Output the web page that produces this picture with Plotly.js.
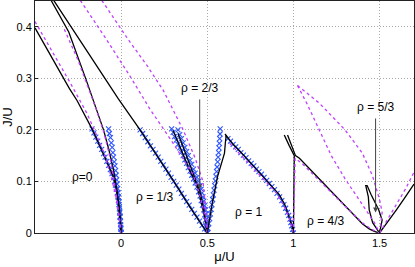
<!DOCTYPE html>
<html><head><meta charset="utf-8">
<script src="https://cdn.plot.ly/plotly-3.0.1.min.js"></script>
<style>html,body{margin:0;padding:0;background:#fff}#c{width:415px;height:267px}</style>
</head><body><div id="c"></div>
<script>
// ---- black solid boundaries ----
const k1x=[-0.5,-0.4,-0.3,-0.256,-0.2,-0.169,-0.125,-0.083,-0.044,-0.023,-0.010,-0.003,0];
const k1y=[0.398,0.339,0.28,0.257,0.223,0.202,0.170,0.139,0.108,0.078,0.047,0.016,0];
const k2x=[-0.406,-0.304,-0.202,-0.102,-0.07,-0.044,-0.025,-0.012,-0.004,0];
const k2y=[0.451,0.39,0.296,0.2,0.16,0.121,0.083,0.05,0.02,0];
const k3x=[-0.391,-0.2,-0.016,0.11,0.2,0.3,0.4,0.5];
const k3y=[0.451,0.355,0.26,0.2,0.155,0.103,0.05,0];
const k4x=[0.302,0.35,0.4,0.456,0.48,0.5];
const k4y=[0.199,0.16,0.12,0.083,0.045,0];
const k5x=[0.33,0.38,0.43,0.465,0.49,0.5];
const k5y=[0.193,0.15,0.105,0.06,0.025,0];
const k6x=[0.5,0.53,0.56,0.585,0.6,0.605,0.61];
const k6y=[0,0.06,0.11,0.14,0.155,0.175,0.19];
const k7x=[0.603,0.65,0.7,0.8,0.86,0.919,0.95,0.975,0.99,1.0];
const k7y=[0.192,0.172,0.155,0.118,0.096,0.074,0.055,0.033,0.016,0];
const k8x=[1.0,1.003,1.005,1.005,0.975,0.947];
const k8y=[0,0.05,0.1,0.15,0.17,0.19];
const k9x=[0.966,0.99,1.012,1.035,1.1,1.2,1.3,1.4,1.44,1.47,1.5];
const k9y=[0.19,0.17,0.15,0.145,0.122,0.088,0.053,0.018,0.008,0.003,0];
const k10x=[1.5,1.46,1.44,1.435,1.42,1.428,1.45,1.47,1.495,1.515,1.5];
const k10y=[0,0.02,0.045,0.07,0.092,0.092,0.075,0.062,0.045,0.025,0];
const k11x=[1.5,1.55,1.6,1.65,1.7];
const k11y=[0,0.022,0.046,0.07,0.095];
// ---- magenta dashed boundaries ----
const m1x=[-0.5,-0.4,-0.3,-0.2,-0.15,-0.1,-0.06,-0.03,-0.01,0];
const m1y=[0.41,0.352,0.294,0.233,0.196,0.155,0.112,0.07,0.03,0];
const m2x=[-0.33,-0.25,-0.2,-0.15,-0.1,-0.06,-0.03,-0.01,0];
const m2y=[0.395,0.335,0.29,0.245,0.195,0.14,0.08,0.03,0];
const m3x=[-0.237,-0.1,0.05,0.168,0.3,0.418,0.46,0.485,0.5];
const m3y=[0.451,0.383,0.305,0.24,0.175,0.113,0.07,0.035,0];
const m4x=[-0.112,0.052,0.15,0.244,0.36,0.43,0.475,0.49,0.5];
const m4y=[0.451,0.37,0.325,0.277,0.2,0.145,0.1,0.05,0];
const m5x=[0.63,0.7,0.8,0.9,0.95,0.98,1.0];
const m5y=[0.174,0.15,0.114,0.078,0.05,0.025,0];
const m6x=[1.0,1.003,1.006,1.01,1.05,1.1,1.2,1.3,1.4,1.45,1.5];
const m6y=[0,0.05,0.1,0.145,0.135,0.118,0.085,0.052,0.02,0.008,0];
const m7x=[1.024,1.08,1.15,1.22,1.3,1.4,1.47,1.5];
const m7y=[0.286,0.25,0.2,0.15,0.105,0.055,0.02,0];
const m8x=[1.024,1.15,1.3,1.4,1.46,1.5,1.515,1.505,1.5];
const m8y=[0.286,0.252,0.2,0.155,0.11,0.065,0.04,0.015,0];
const m9x=[1.5,1.55,1.6,1.65,1.7];
const m9y=[0,0.028,0.055,0.085,0.118];
// ---- blue crosses ----
const b1x=[-0.169,-0.158,-0.147,-0.136,-0.125,-0.113,-0.102,-0.093,-0.083,-0.073,-0.063,-0.053,-0.044,-0.038,-0.033,-0.028,-0.023,-0.019,-0.016,-0.013,-0.010,-0.008,-0.006,-0.004,-0.003,-0.001,0];
const b1y=[0.202,0.194,0.186,0.178,0.170,0.162,0.154,0.147,0.139,0.131,0.123,0.115,0.108,0.100,0.093,0.085,0.078,0.070,0.063,0.055,0.047,0.039,0.031,0.023,0.016,0.008,0];
const b2x=[-0.073,-0.068,-0.062,-0.057,-0.052,-0.048,-0.044,-0.040,-0.036,-0.032,-0.029,-0.026,-0.023,-0.020,-0.017,-0.014,-0.012,-0.010,-0.008,-0.006,-0.004,-0.002,0];
const b2y=[0.202,0.193,0.185,0.175,0.166,0.156,0.147,0.138,0.130,0.121,0.112,0.103,0.095,0.086,0.078,0.069,0.060,0.051,0.042,0.032,0.022,0.011,0];
const b3x=[0.11,0.125,0.14,0.155,0.17,0.185,0.2,0.215,0.23,0.245,0.26,0.275,0.29,0.305,0.32,0.335,0.35,0.365,0.38,0.395,0.41,0.425,0.44,0.455,0.47,0.485,0.5];
const b3y=[0.2,0.193,0.185,0.177,0.169,0.162,0.155,0.147,0.139,0.132,0.124,0.116,0.108,0.1,0.093,0.085,0.077,0.069,0.061,0.054,0.046,0.038,0.031,0.023,0.015,0.008,0];
const b4x=[0.293,0.302,0.31,0.32,0.33,0.34,0.35,0.36,0.37,0.38,0.39,0.4,0.41,0.42,0.43,0.44,0.45,0.458,0.465,0.472,0.48,0.485,0.49,0.495,0.5];
const b4y=[0.202,0.195,0.187,0.18,0.172,0.165,0.157,0.15,0.142,0.135,0.127,0.12,0.112,0.105,0.097,0.089,0.08,0.072,0.063,0.054,0.045,0.035,0.025,0.013,0];
const b5x=[0.33,0.34,0.35,0.36,0.37,0.38,0.39,0.4,0.41,0.42,0.43,0.44,0.45,0.458,0.465,0.47,0.475,0.48,0.485,0.489,0.492,0.495,0.497,0.499,0.5];
const b5y=[0.2,0.191,0.183,0.175,0.166,0.158,0.15,0.141,0.133,0.124,0.116,0.108,0.1,0.092,0.085,0.078,0.07,0.062,0.053,0.045,0.036,0.027,0.018,0.009,0];
const b6x=[0.575,0.574,0.572,0.57,0.568,0.566,0.563,0.56,0.557,0.554,0.55,0.547,0.543,0.539,0.535,0.531,0.527,0.523,0.518,0.514,0.509,0.505,0.5];
const b6y=[0.202,0.192,0.183,0.174,0.165,0.156,0.147,0.138,0.128,0.119,0.11,0.101,0.092,0.083,0.074,0.065,0.055,0.046,0.037,0.028,0.018,0.009,0];
const b7x=[0.62,0.635,0.65,0.665,0.68,0.695,0.71,0.725,0.74,0.755,0.77,0.785,0.8,0.815,0.83,0.845,0.86,0.875,0.89,0.905,0.92,0.933,0.945,0.955,0.965,0.973,0.98,0.985,0.99,0.995,1.0];
const b7y=[0.183,0.178,0.172,0.167,0.162,0.156,0.151,0.146,0.14,0.135,0.13,0.124,0.119,0.114,0.108,0.102,0.096,0.09,0.084,0.077,0.07,0.063,0.055,0.048,0.04,0.034,0.027,0.02,0.014,0.007,0];
// ---- labels ----
const labText=['ρ=0','ρ = 1/3','ρ = 1','ρ = 4/3'];
const labX=[-0.223,0.196,0.74,1.19];
const labY=[0.108,0.069,0.04,0.024];
const arrText=['ρ = 2/3','ρ = 5/3'];
const arrX=[0.456,1.477];
const arrTop=[0.262,0.225];
const arrTip=[0.085,0.04];

const BLACK='#000', MAG='#c040ff', BLUE='rgb(45,85,255)';
const traces=[];
const blues=[[b1x,b1y],[b2x,b2y],[b3x,b3y],[b4x,b4y],[b5x,b5y],[b6x,b6y],[b7x,b7y]];
blues.forEach(([x,y])=>traces.push({x,y,mode:'markers',type:'scatter',
  marker:{symbol:'x-thin-open',size:5,color:BLUE,line:{width:1.1,color:BLUE}},hoverinfo:'skip'}));
const blacks=[[k1x,k1y],[k2x,k2y],[k3x,k3y],[k4x,k4y],[k5x,k5y],[k6x,k6y],[k7x,k7y],[k8x,k8y],[k9x,k9y],[k10x,k10y],[k11x,k11y]];
blacks.forEach(([x,y])=>traces.push({x,y,mode:'lines',type:'scatter',line:{color:BLACK,width:1.3},hoverinfo:'skip'}));
const mags=[[m1x,m1y],[m2x,m2y],[m3x,m3y],[m4x,m4y],[m5x,m5y],[m6x,m6y],[m7x,m7y],[m8x,m8y],[m9x,m9y]];
mags.forEach(([x,y])=>traces.push({x,y,mode:'lines',type:'scatter',line:{color:MAG,width:1.3,dash:'3px,3px'},hoverinfo:'skip'}));

const ann=[];
labText.forEach((t,i)=>ann.push({x:labX[i],y:labY[i],xref:'x',yref:'y',text:t,showarrow:false,font:{size:12,color:'#000'}}));
arrText.forEach((t,i)=>{
  ann.push({x:arrX[i],y:arrTip[i],ax:arrX[i],ay:arrTop[i],axref:'x',ayref:'y',xref:'x',yref:'y',text:'',showarrow:true,
    arrowhead:2,arrowsize:1,arrowwidth:1,arrowcolor:'#444'});
  ann.push({x:arrX[i],y:arrTop[i],xref:'x',yref:'y',text:t,showarrow:false,yanchor:'bottom',yshift:1,font:{size:12,color:'#000'}});
});

const ax={showline:true,mirror:true,linecolor:'#222',linewidth:1,ticks:'inside',ticklen:3,tickcolor:'#222',
  showgrid:true,gridcolor:'#a8a8a8',griddash:'1px,2px',gridwidth:1,zeroline:false,tickfont:{size:11,color:'#000'}};
const layout={width:415,height:267,margin:{l:35,r:1,t:1,b:34},paper_bgcolor:'#fff',plot_bgcolor:'#fff',
  showlegend:false,font:{family:'Liberation Sans, Arial, sans-serif',color:'#000'},
  xaxis:Object.assign({},ax,{range:[-0.5,1.7],tickvals:[0,0.5,1,1.5],ticktext:['0','0.5','1','1.5'],
    title:{text:'μ/U',font:{size:13},standoff:2}}),
  yaxis:Object.assign({},ax,{range:[0,0.45],tickvals:[0,0.1,0.2,0.3,0.4],ticktext:['0','0.1','0.2','0.3','0.4'],
    title:{text:'J/U',font:{size:13},standoff:2}}),
  annotations:ann};
Plotly.newPlot('c',traces,layout,{staticPlot:true,displayModeBar:false});
</script></body></html>
